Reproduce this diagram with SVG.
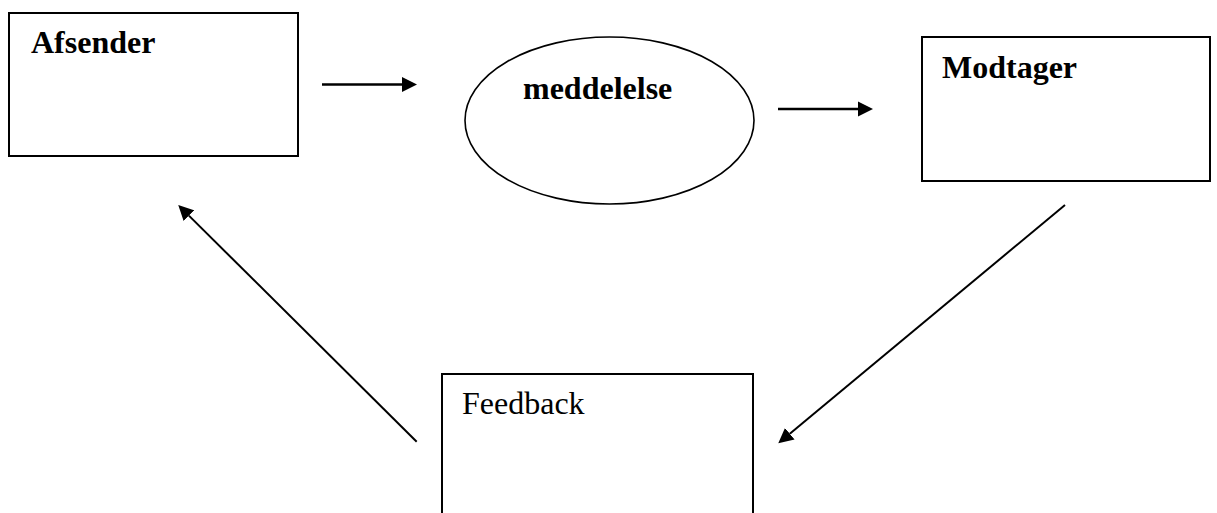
<svg xmlns="http://www.w3.org/2000/svg" width="1217" height="513" viewBox="0 0 1217 513">
  <style>
    .box { fill: #ffffff; stroke: #000000; stroke-width: 2; }
    .lbl { font-family: "Liberation Serif", "Times New Roman", serif; font-size: 32px; fill: #000000; }
    .bold { font-weight: bold; }
    .conn { fill: none; stroke: #000000; }
    .h { stroke-width: 2.7; }
    .d { stroke-width: 2; }
  </style>
  <defs>
    <marker id="arrow" markerUnits="userSpaceOnUse" markerWidth="16" markerHeight="16" viewBox="0 -8 16 16" refX="0" refY="0" orient="auto">
      <path d="M0,-7.5 L15,0 L0,7.5 Z" fill="#000000"/>
    </marker>
  </defs>
  <rect width="1217" height="513" fill="#ffffff"/>
  <g id="afsender">
    <rect class="box" x="9" y="13" width="289" height="143"/>
    <text class="lbl bold" x="31" y="53">Afsender</text>
  </g>
  <g id="meddelelse">
    <ellipse class="box" cx="609.5" cy="120.5" rx="144.5" ry="83.5" style="stroke-width:1.6"/>
    <text class="lbl bold" x="523" y="99">meddelelse</text>
  </g>
  <g id="modtager">
    <rect class="box" x="922" y="37" width="288" height="144"/>
    <text class="lbl bold" x="942" y="78">Modtager</text>
  </g>
  <g id="feedback">
    <rect class="box" x="442" y="374" width="311" height="150"/>
    <text class="lbl" x="462" y="414">Feedback</text>
  </g>
  <g id="connectors">
    <path class="conn h" d="M322,84.5 L402,84.5" marker-end="url(#arrow)"/>
    <path class="conn h" d="M778,109 L858,109" marker-end="url(#arrow)"/>
    <path class="conn d" d="M1065,205 L789.8,433.7" marker-end="url(#arrow)"/>
    <path class="conn d" d="M416.7,441.7 L188.9,215.6" marker-end="url(#arrow)"/>
  </g>
</svg>
